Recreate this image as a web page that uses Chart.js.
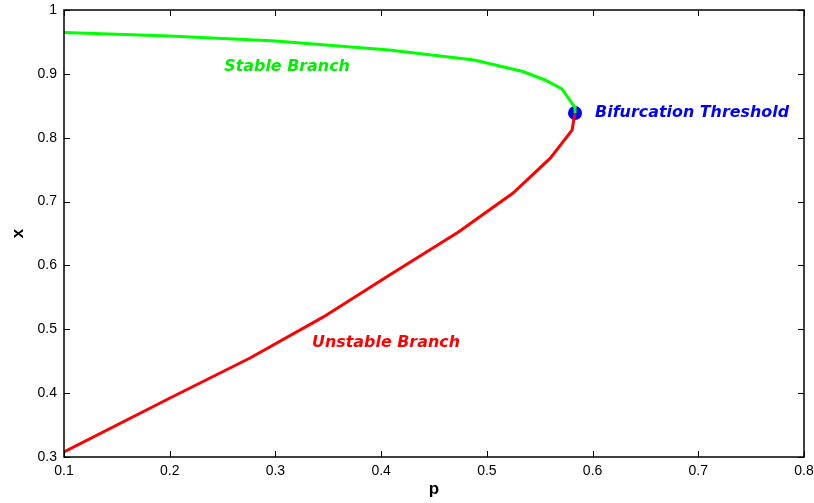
<!DOCTYPE html>
<html>
<head>
<meta charset="utf-8">
<script src="https://cdn.jsdelivr.net/npm/chart.js@4.4.1/dist/chart.umd.min.js"></script>
<style>
  html, body { margin: 0; padding: 0; background: #fff; }
  #wrap { width: 814px; height: 503px; }
</style>
</head>
<body>
<div id="wrap"><canvas id="chart" width="814" height="503"></canvas></div>
<script>
// ===== data =====
const stableP   = [0.1, 0.2, 0.3, 0.4075, 0.488, 0.534, 0.555, 0.571, 0.5834, 0.5834];
const stableX   = [0.9648, 0.9593, 0.9515, 0.9374, 0.9217, 0.9037, 0.8904, 0.8763, 0.8473, 0.8387];
const unstableP = [0.1, 0.2003, 0.276, 0.345, 0.408, 0.4728, 0.5248, 0.56, 0.5806, 0.5834];
const unstableX = [0.3079, 0.3924, 0.455, 0.519, 0.585, 0.652, 0.7134, 0.768, 0.812, 0.8387];
const bifP = [0.5834];
const bifX = [0.8387];

const xTicks = [0.1, 0.2, 0.3, 0.4, 0.5, 0.6, 0.7, 0.8];
const yTicks = [0.3, 0.4, 0.5, 0.6, 0.7, 0.8, 0.9, 1];

// text labels placed in data coords
const notes = [
  { text: 'Stable Branch', p: 0.311, x: 0.9109, color: '#00ee00', align: 'center' },
  { text: 'Unstable Branch', p: 0.4046, x: 0.4787, color: '#ff0000', align: 'center' },
  { text: 'Bifurcation Threshold', p: 0.6024, x: 0.8388, color: '#0000ff', align: 'left' },
];

const zip = (a, b) => a.map((v, i) => ({ x: v, y: b[i] }));
const fmt = v => String(Math.round(v * 10) / 10);

// inward ticks on all four sides + box, MATLAB style
const boxTicks = {
  id: 'boxTicks',
  afterDraw(chart) {
    const { ctx, chartArea: a } = chart;
    const sx = chart.scales.x, sy = chart.scales.y;
    ctx.save();
    ctx.strokeStyle = '#000';
    ctx.lineWidth = 1;
    ctx.beginPath();
    xTicks.forEach(t => {
      const px = Math.round(sx.getPixelForValue(t)) + 0.5;
      ctx.moveTo(px, a.bottom); ctx.lineTo(px, a.bottom - 6);
      ctx.moveTo(px, a.top); ctx.lineTo(px, a.top + 6);
    });
    yTicks.forEach(t => {
      const py = Math.round(sy.getPixelForValue(t)) + 0.5;
      ctx.moveTo(a.left, py); ctx.lineTo(a.left + 6, py);
      ctx.moveTo(a.right, py); ctx.lineTo(a.right - 6, py);
    });
    ctx.stroke();
    ctx.lineWidth = 1.5;
    ctx.strokeRect(a.left, a.top, a.right - a.left, a.bottom - a.top);
    ctx.restore();
  },
  afterDatasetsDraw(chart) {
    const { ctx } = chart;
    const sx = chart.scales.x, sy = chart.scales.y;
    ctx.save();
    ctx.font = 'italic bold 15px "DejaVu Sans", sans-serif';
    ctx.textBaseline = 'middle';
    notes.forEach(n => {
      const px = sx.getPixelForValue(n.p), py = sy.getPixelForValue(n.x);
      ctx.save();
      ctx.translate(px, py);
      ctx.scale(1.06, 1);
      ctx.fillStyle = n.color;
      ctx.textAlign = n.align;
      ctx.fillText(n.text, 0, 0);
      ctx.restore();
    });
    ctx.restore();
  }
};

new Chart(document.getElementById('chart'), {
  type: 'scatter',
  data: {
    datasets: [
      { data: zip(stableP, stableX), showLine: true, borderColor: '#00ff00', borderWidth: 3, pointRadius: 0, tension: 0 },
      { data: zip(unstableP, unstableX), showLine: true, borderColor: '#ff0000', borderWidth: 3, pointRadius: 0, tension: 0 },
      { data: zip(bifP, bifX), backgroundColor: '#0000ff', borderColor: '#0000ff', pointRadius: 7, borderWidth: 0 },
    ]
  },
  options: {
    responsive: false,
    animation: false,
    events: [],
    layout: { padding: { top: 10, right: 10, left: 0, bottom: 0 } },
    plugins: { legend: { display: false }, tooltip: { enabled: false } },
    scales: {
      x: {
        type: 'linear', min: 0.1, max: 0.8,
        grid: { display: false, drawTicks: false },
        border: { display: false },
        afterBuildTicks: s => { s.ticks = xTicks.map(v => ({ value: v })); },
        afterFit: s => { s.height = 46; s.paddingLeft = 0; s.paddingRight = 0; },
        ticks: { padding: 6, color: '#000', maxRotation: 0, autoSkip: false, callback: fmt,
                 font: { family: '"Liberation Sans", Arial, sans-serif', size: 14 } },
        title: { display: true, text: 'p', color: '#000', padding: { top: 0, bottom: 3 },
                 font: { family: '"Liberation Sans", Arial, sans-serif', size: 17, weight: 'bold' } }
      },
      y: {
        type: 'linear', min: 0.3, max: 1,
        grid: { display: false, drawTicks: false },
        border: { display: false },
        afterBuildTicks: s => { s.ticks = yTicks.map(v => ({ value: v })); },
        afterFit: s => { s.width = 64; s.paddingTop = 0; s.paddingBottom = 0; },
        ticks: { padding: 7, color: '#000', autoSkip: false, callback: fmt,
                 font: { family: '"Liberation Sans", Arial, sans-serif', size: 14 } },
        title: { display: true, text: 'x', color: '#000', padding: { top: 8, bottom: 0 },
                 font: { family: '"Liberation Sans", Arial, sans-serif', size: 17, weight: 'bold' } }
      }
    }
  },
  plugins: [boxTicks]
});
</script>
</body>
</html>
